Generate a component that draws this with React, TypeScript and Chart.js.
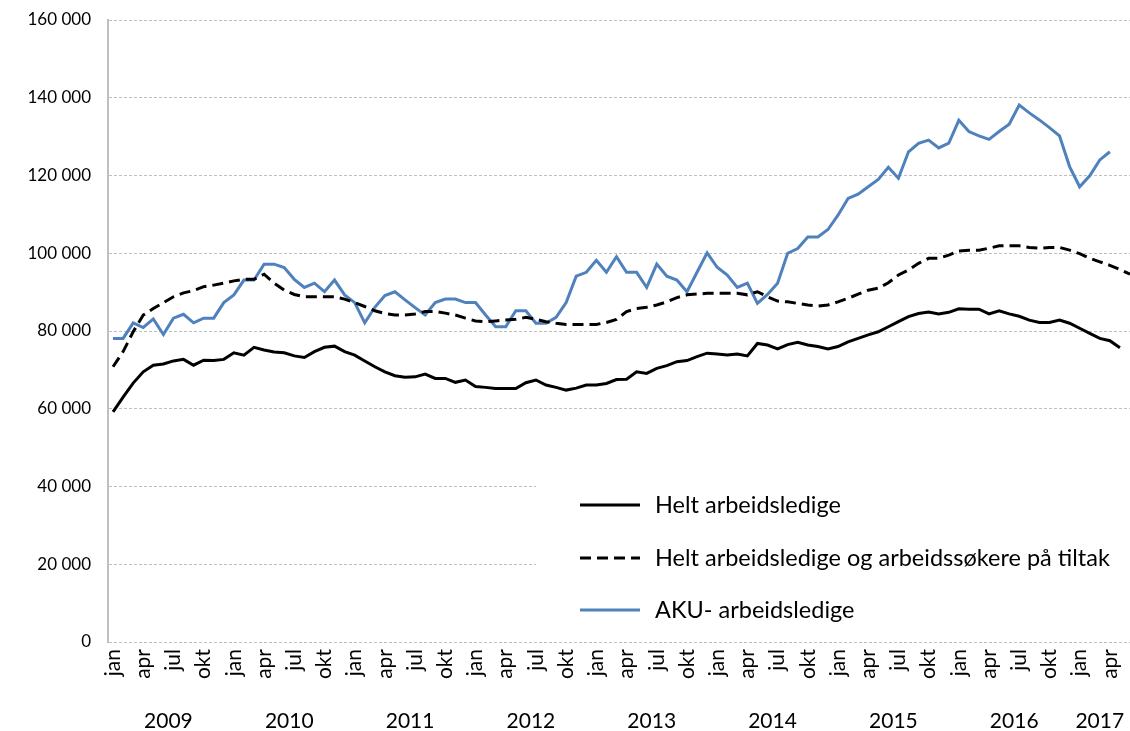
import React, { useEffect, useRef } from 'react';
import { Chart, registerables } from 'chart.js';

Chart.register(...registerables);

// Monthly series, index 0 = jan 2009
const heltLedige = [
  59200, 63000, 66600, 69500, 71200, 71500, 72300, 72700, 71200, 72500, 72400, 72700,
  74400, 73800, 75800, 75100, 74600, 74400, 73600, 73200, 74700, 75800, 76100, 74700,
  73800, 72300, 70800, 69500, 68500, 68100, 68200, 68900, 67800, 67800, 66800, 67400,
  65700, 65500, 65200, 65200, 65200, 66700, 67400, 66100, 65500, 64800, 65300, 66100,
  66100, 66500, 67500, 67600, 69500, 69100, 70400, 71100, 72100, 72400, 73400, 74300,
  74100, 73800, 74100, 73600, 76800, 76400, 75400, 76500, 77100, 76400, 76000, 75400,
  76000, 77200, 78100, 79000, 79800, 81100, 82400, 83700, 84500, 84900, 84400, 84800,
  85700, 85600, 85600, 84400, 85200, 84400, 83800, 82800, 82200, 82200, 82800, 82000,
  80700, 79400, 78100, 77500, 75700,
];

const medTiltak = [
  70800, 74700, 79800, 84100, 85800, 87300, 88800, 89800, 90400, 91400, 91800, 92300,
  92900, 93300, 93300, 94600, 92300, 90500, 89400, 88800, 88800, 88800, 88800, 88200,
  87300, 86300, 85200, 84500, 84100, 84100, 84400, 85000, 85000, 84600, 84100, 83300,
  82600, 82400, 82600, 82800, 83000, 83500, 83000, 82400, 82000, 81700, 81700, 81700,
  81700, 82200, 83000, 85000, 85800, 86100, 86700, 87500, 88600, 89300, 89500, 89700,
  89700, 89700, 89700, 89300, 90100, 88800, 87700, 87500, 87100, 86700, 86400, 86700,
  87500, 88400, 89500, 90500, 91000, 92400, 94400, 95700, 97400, 98700, 98700, 99500,
  100600, 100800, 100800, 101300, 101900, 101900, 101900, 101500, 101300, 101500, 101500, 100800,
  99900, 98700, 97800, 96900, 95800, 94600,
];

const akuLedige = [
  78100, 78100, 82100, 80900, 83100, 79100, 83300, 84300, 82100, 83300, 83300, 87300,
  89300, 93100, 93100, 97200, 97200, 96300, 93300, 91200, 92300, 90100, 93100, 89300,
  87300, 82100, 86100, 89100, 90100, 88000, 86000, 84100, 87300, 88200, 88200, 87300,
  87300, 84100, 81100, 81100, 85200, 85200, 82000, 82000, 83500, 87300, 94100, 95100,
  98200, 95100, 99100, 95100, 95100, 91200, 97200, 94100, 93100, 90100, 95100, 100100,
  96400, 94400, 91200, 92300, 87100, 89400, 92300, 100000, 101200, 104200, 104200, 106100,
  109800, 114100, 115200, 117100, 119000, 122100, 119300, 126100, 128300, 129100, 127100, 128300,
  134200, 131300, 130200, 129300, 131300, 133200, 138100, 136100, 134300, 132300, 130200, 122300,
  117100, 119900, 124000, 126100,
];

const seriesNames = [
  'Helt arbeidsledige',
  'Helt arbeidsledige og arbeidssøkere på tiltak',
  'AKU- arbeidsledige',
];

const quarterLabels = ['jan', 'apr', 'jul', 'okt'];
const years = [2009, 2010, 2011, 2012, 2013, 2014, 2015, 2016, 2017];
const yTicks = [0, 20000, 40000, 60000, 80000, 100000, 120000, 140000, 160000];

const FONT = 'Lato, "Open Sans", sans-serif';
const FS_Y = 17;
const FS_X = 21;
const FS_YEAR = 21;
const FS_LEGEND = 23.5;
const BLUE = '#4F81BD';
const DASH = [11, 6];

const toPoints = (arr: number[]) => arr.map((v, i) => ({ x: i, y: v }));
const fmt = (v: number) => String(v).replace(/\B(?=(\d{3})+(?!\d))/g, ' ');
const lastIndex = medTiltak.length - 1;
const quarterTicks: number[] = [];
for (let i = 0; i <= 99; i += 3) quarterTicks.push(i);

const overlay = {
  id: 'overlay',
  beforeDatasetsDraw(chart: any) {
    const { ctx, chartArea } = chart;
    const ys = chart.scales.y;
    const top = ys.getPixelForValue(44000);
    const bottom = ys.getPixelForValue(2500);
    ctx.save();
    ctx.fillStyle = '#ffffff';
    ctx.fillRect(536, top, chartArea.right - 536 + 2, bottom - top);
    ctx.restore();
  },
  afterDraw(chart: any) {
    const { ctx } = chart;
    const xs = chart.scales.x;
    ctx.save();
    const rows = [505, 558, 610];
    chart.data.datasets.forEach((ds: any, i: number) => {
      const y = rows[i];
      ctx.beginPath();
      ctx.strokeStyle = ds.borderColor;
      ctx.lineWidth = ds.borderWidth;
      ctx.setLineDash(ds.borderDash || []);
      ctx.moveTo(580, y);
      ctx.lineTo(640, y);
      ctx.stroke();
      ctx.setLineDash([]);
      ctx.fillStyle = '#000';
      ctx.font = `${FS_LEGEND}px ${FONT}`;
      ctx.textAlign = 'left';
      ctx.textBaseline = 'middle';
      ctx.fillText(ds.label, 655, y);
    });
    ctx.fillStyle = '#000';
    ctx.font = `${FS_YEAR}px ${FONT}`;
    ctx.textAlign = 'center';
    ctx.textBaseline = 'middle';
    years.forEach((yr, k) => {
      const start = k * 12;
      const end = Math.min(start + 11, heltLedige.length - 1);
      const xp = xs.getPixelForValue((start + end) / 2);
      ctx.fillText(String(yr), xp, 721);
    });
    ctx.restore();
  },
};

export default function App() {
  const ref = useRef<HTMLCanvasElement>(null);
  useEffect(() => {
    const chart = new Chart(ref.current as HTMLCanvasElement, {
      type: 'line',
      data: {
        datasets: [
          {
            label: seriesNames[0],
            data: toPoints(heltLedige),
            borderColor: '#000000',
            borderWidth: 3,
            pointRadius: 0,
            tension: 0,
          },
          {
            label: seriesNames[1],
            data: toPoints(medTiltak),
            borderColor: '#000000',
            borderWidth: 3,
            borderDash: DASH,
            pointRadius: 0,
            tension: 0,
          },
          {
            label: seriesNames[2],
            data: toPoints(akuLedige),
            borderColor: BLUE,
            borderWidth: 3,
            pointRadius: 0,
            tension: 0,
          },
        ],
      },
      options: {
        animation: false,
        responsive: false,
        layout: { padding: { top: 20, left: 0, right: 0, bottom: 0 } },
        plugins: {
          legend: { display: false },
          tooltip: { enabled: false },
        },
        scales: {
          x: {
            type: 'linear',
            min: -0.5,
            max: lastIndex,
            grid: { display: false, drawTicks: false },
            border: { display: false },
            afterBuildTicks: (s: any) => {
              s.ticks = quarterTicks.map((v) => ({ value: v }));
            },
            afterFit: (s: any) => {
              s.height = 89;
              s.paddingLeft = 0;
              s.paddingRight = 0;
              s.paddingTop = 0;
              s.paddingBottom = 0;
            },
            ticks: {
              autoSkip: false,
              minRotation: 90,
              maxRotation: 90,
              padding: 7,
              color: '#000',
              font: { family: FONT, size: FS_X },
              callback: (v: any) => quarterLabels[(Number(v) / 3) % 4],
            },
          },
          y: {
            min: 0,
            max: 160000,
            afterBuildTicks: (s: any) => {
              s.ticks = yTicks.map((v) => ({ value: v }));
            },
            afterFit: (s: any) => {
              s.width = 108;
              s.paddingTop = 0;
              s.paddingBottom = 0;
              s.paddingLeft = 0;
              s.paddingRight = 0;
            },
            grid: { color: '#BFBFBF', lineWidth: 1, drawTicks: false },
            border: { display: true, color: '#BFBFBF', width: 2, dash: [3, 2] },
            ticks: {
              padding: 17,
              color: '#000',
              font: { family: FONT, size: FS_Y },
              callback: (v: any) => fmt(Number(v)),
            },
          },
        },
      },
      plugins: [overlay],
    } as any);
    return () => chart.destroy();
  }, []);
  return (
    <div style={{ position: 'fixed', left: 0, top: 0, width: 1130, height: 731, background: '#fff' }}>
      <canvas ref={ref} width={1130} height={731} style={{ display: 'block' }} />
    </div>
  );
}
